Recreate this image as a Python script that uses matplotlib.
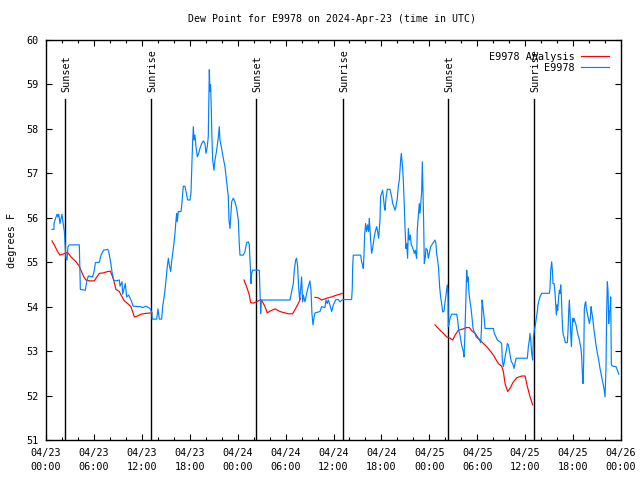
import numpy as np
import matplotlib
matplotlib.use("Agg")
import matplotlib.pyplot as plt

# ---------------- data ----------------
title = "Dew Point for E9978 on 2024-Apr-23 (time in UTC)"
ylabel = "degrees F"
series_names = ["E9978 Analysis", "E9978"]

# hours since 2024-04-23 00:00 UTC
obs_hours = [0.75, 1.0, 1.0, 1.13, 1.38, 1.5, 1.59, 1.75, 2.0, 2.09, 2.3, 2.38, 2.5, 2.63, 2.75, 2.92,
             4.17, 4.3, 4.92, 5.09, 5.3, 5.84, 6.05, 6.18, 6.68, 6.89, 7.22, 7.72, 7.85, 8.05, 8.26,
             8.47, 8.76, 9.18, 9.27, 9.52, 9.6, 9.93, 10.1, 10.35, 10.64, 10.93, 11.81, 12.1, 12.52,
             13.02, 13.27, 13.3, 13.86, 14.02, 14.19, 14.48, 14.61, 14.77, 14.9, 15.02, 15.19, 15.32,
             15.44, 15.61, 15.73, 15.86, 16.02, 16.15, 16.28, 16.36, 16.44, 16.57, 16.9, 16.98, 17.11,
             17.19, 17.4, 17.53, 17.74, 18.03, 18.15, 18.24, 18.36, 18.45, 18.53, 18.65, 18.78, 18.95,
             19.11, 19.28, 19.49, 19.7, 19.9, 20.03, 20.2, 20.32, 20.45, 20.53, 20.61, 20.7, 20.78,
             20.87, 21.03, 21.16, 21.37, 21.58, 21.7, 21.78, 21.99, 22.2, 22.41, 22.62, 22.83, 22.91,
             23.04, 23.16, 23.25, 23.45, 23.66, 23.87, 24.08, 24.2, 24.29, 24.71, 24.91, 25.12, 25.33,
             25.46, 25.54, 25.63, 25.67, 25.75, 25.88, 26.71, 26.79, 26.88, 26.96, 27.04, 30.55, 30.76,
             30.97, 31.09, 31.26, 31.38, 31.51, 31.63, 31.76, 31.88, 32.01, 32.13, 32.22, 32.43, 32.64,
             32.84, 33.05, 33.18, 33.3, 33.43, 33.55, 33.68, 34.3, 34.51, 34.93, 35.06, 35.22, 35.35,
             35.56, 35.77, 35.98, 36.31, 36.6, 36.81, 37.14, 38.27, 38.35, 38.4, 38.48, 39.4, 39.52,
             39.65, 39.73, 39.81, 39.9, 40.02, 40.15, 40.27, 40.4, 40.48, 40.57, 40.65, 40.78, 40.9,
             40.98, 41.11, 41.23, 41.4, 41.53, 41.65, 41.73, 41.82, 41.9, 42.03, 42.15, 42.24, 42.36,
             42.45, 42.57, 42.74, 43.07, 43.28, 43.41, 43.57, 43.7, 43.82, 43.99, 44.11, 44.24, 44.32,
             44.41, 44.49, 44.57, 44.66, 44.74, 44.87, 44.95, 45.07, 45.16, 45.28, 45.37, 45.49, 45.62,
             45.74, 45.87, 46.0, 46.12, 46.24, 46.33, 46.41, 46.49, 46.62, 46.74, 46.83, 46.91, 47.04,
             47.12, 47.2, 47.29, 47.37, 47.5, 47.58, 47.75, 47.87, 48.0, 48.17, 48.41, 48.7, 48.83,
             48.91, 49.04, 49.16, 49.29, 49.41, 49.54, 49.67, 49.84, 49.97, 50.09, 50.17, 50.26, 50.34,
             50.38, 50.47, 50.59, 50.8, 51.43, 51.55, 51.68, 51.84, 51.97, 52.09, 52.26, 52.34, 52.43,
             52.51, 52.6, 52.68, 52.76, 52.85, 52.97, 53.1, 53.22, 53.35, 53.47, 53.6, 53.72, 53.85,
             54.06, 54.27, 54.43, 54.52, 54.6, 54.68, 54.77, 54.89, 54.97, 56.02, 56.14, 56.35, 56.52,
             56.85, 57.06, 57.14, 57.27, 57.39, 57.52, 57.65, 57.77, 57.9, 58.02, 58.15, 58.27, 58.44,
             58.61, 58.73, 58.86, 60.27, 60.4, 60.52, 60.61, 60.69, 60.82, 60.94, 61.03, 61.15, 61.28,
             61.36, 61.49, 61.61, 61.74, 61.86, 62.07, 63.03, 63.11, 63.2, 63.32, 63.41, 63.49, 63.62,
             63.74, 63.82, 63.91, 63.99, 64.07, 64.2, 64.28, 64.37, 64.45, 64.53, 64.62, 64.7, 64.78,
             64.91, 65.03, 65.28, 65.37, 65.45, 65.53, 65.62, 65.7, 65.79, 65.87, 65.95, 66.04, 66.12,
             66.24, 66.37, 66.49, 66.62, 66.74, 66.87, 66.99, 67.08, 67.16, 67.25, 67.33, 67.41, 67.5,
             67.58, 67.66, 67.79, 67.91, 68.04, 68.16, 68.25, 68.33, 68.46, 68.62, 68.75, 68.87, 69.04,
             69.21, 69.37, 69.54, 69.71, 69.87, 70.0, 70.12, 70.21, 70.29, 70.38, 70.46, 70.54, 70.63,
             70.71, 70.79, 70.96, 71.38, 71.55, 71.72]
obs_values = [55.74, 55.74, 55.87, 55.95, 56.08, 56.02, 56.08, 55.87, 56.08, 55.95, 55.69, 55.44, 55.09, 55.05, 55.35, 55.39,
              55.39, 54.39, 54.37, 54.56, 54.69, 54.67, 54.82, 54.99, 55.0, 55.16, 55.27, 55.29, 55.24, 55.05, 54.79,
              54.6, 54.58, 54.6, 54.46, 54.56, 54.28, 54.52, 54.22, 54.26, 54.15, 54.01, 54.0, 53.98, 54.01,
              53.96, 53.86, 53.72, 53.72, 53.95, 53.72, 53.72, 54.0, 54.19, 54.37, 54.6, 54.9, 55.09,
              54.94, 54.79, 55.01, 55.2, 55.42, 55.65, 55.95, 56.1, 55.91, 56.14, 56.14, 56.25, 56.55,
              56.71, 56.71, 56.59, 56.4, 56.4, 56.55, 57.04, 57.71, 58.05, 57.75, 57.86, 57.6, 57.37,
              57.45, 57.56, 57.67, 57.73, 57.67, 57.45, 57.6, 57.83, 59.33, 58.84, 58.99, 58.42, 57.79,
              57.3, 57.07, 57.3, 57.52, 57.82, 58.05, 57.75, 57.56, 57.34, 57.15, 56.81, 56.47, 55.95,
              55.76, 56.1, 56.36, 56.44, 56.36, 56.21, 55.95, 55.42, 55.16, 55.16, 55.24, 55.44, 55.46,
              55.39, 55.05, 54.75, 54.52, 54.75, 54.82, 54.82, 54.34, 53.85, 54.11, 54.15, 54.15, 54.34,
              54.52, 54.82, 55.05, 55.09, 54.9, 54.45, 54.15, 54.37, 54.67, 54.11, 54.26, 54.11, 54.3,
              54.45, 54.58, 54.37, 53.85, 53.59, 53.74, 53.86, 53.89, 54.0, 53.98, 54.15, 54.07, 54.15,
              54.04, 53.89, 54.04, 54.16, 54.16, 54.11, 54.16, 54.16, 54.41, 54.91, 55.16, 55.16, 55.01,
              54.94, 54.86, 55.12, 55.61, 55.87, 55.69, 55.84, 55.69, 55.99, 55.72, 55.5, 55.2, 55.31,
              55.42, 55.57, 55.69, 55.8, 55.69, 55.54, 55.72, 55.95, 56.48, 56.55, 56.62, 56.48, 56.25,
              56.17, 56.44, 56.64, 56.64, 56.48, 56.32, 56.25, 56.17, 56.25, 56.44, 56.7, 56.85, 57.07,
              57.3, 57.45, 57.3, 57.11, 56.85, 56.25, 55.8, 55.31, 55.42, 55.09, 55.76, 55.5, 55.61,
              55.39, 55.35, 55.27, 55.2, 55.27, 55.16, 55.09, 55.72, 56.02, 56.32, 56.1, 56.29, 56.59,
              57.26, 56.66, 55.87, 54.97, 55.12, 55.31, 55.27, 55.09, 55.2, 55.35, 55.42, 55.5, 55.42,
              55.2, 55.05, 54.86, 54.45, 54.22, 54.07, 53.88, 53.9, 54.11, 54.26, 54.39, 54.49, 54.26,
              53.55, 53.62, 53.74, 53.83, 53.83, 53.7, 53.47, 53.36, 53.21, 53.1, 52.99, 52.87, 53.25,
              53.77, 54.41, 54.82, 54.56, 54.67, 54.3, 54.11, 53.96, 53.74, 53.51, 53.44, 53.4, 53.32,
              53.29, 53.25, 53.19, 53.47, 54.15, 54.04, 53.89, 53.7, 53.51, 53.51, 53.4, 53.32, 53.25,
              53.21, 53.17, 52.8, 52.65, 52.76, 52.91, 53.02, 53.17, 53.14, 53.02, 52.87, 52.76, 52.72,
              52.61, 52.72, 52.84, 52.84, 53.1, 53.25, 53.4, 53.25, 52.95, 52.8, 53.3, 53.47, 53.59,
              53.7, 53.85, 54.04, 54.15, 54.22, 54.3, 54.3, 54.41, 54.82, 55.01, 54.82, 54.52, 54.52,
              54.3, 54.07, 53.81, 54.04, 53.92, 54.22, 54.37, 54.3, 54.49, 54.26, 53.77, 53.47, 53.36,
              53.29, 53.19, 53.19, 53.47, 53.89, 54.15, 53.85, 53.4, 53.1, 53.47, 53.74, 53.66, 53.74,
              53.66, 53.59, 53.47, 53.36, 53.29, 53.17, 53.06, 52.87, 52.5, 52.27, 52.76, 53.96, 54.07,
              54.11, 53.96, 53.85, 53.74, 53.62, 53.74, 54.0, 53.89, 53.74, 53.47, 53.29, 53.14, 52.95,
              52.8, 52.61, 52.46, 52.31, 52.16, 51.97, 52.61, 53.92, 54.56, 54.34, 53.62, 53.89, 53.92,
              54.22, 52.69, 52.66, 52.65, 52.57, 52.48]

# analysis series; None marks a gap
ana_hours = [0.75, 1.0, 1.46, 1.75, 2.09, 2.5, 2.71, 3.13, 3.76, 4.17, 4.38, 4.67, 5.01, 5.43, 6.05, 6.26,
             6.68, 7.18, 7.72, 8.05, 8.26, 8.47, 8.76, 9.18, 9.52, 9.81, 10.23, 10.64, 11.06, 11.48,
             11.89, 12.52, 13.27, None,
             24.79, 25.12, 25.46, 25.63, 25.96, 26.37, 26.79, 27.0, 27.42, 27.71, 28.05, 28.67, 29.3,
             30.34, 30.88, 31.17, 31.59, 31.88, None,
             33.68, 34.1, 34.51, 35.14, 35.77, 36.39, 36.81, 37.1, None,
             48.71, 49.34, 49.76, 50.17, 50.59, 50.93, 51.22, 51.64, 52.05, 52.68, 53.01, 53.3, 53.72,
             54.14, 54.77, 55.18, 55.69, 56.02, 56.64, 57.06, 57.27, 57.48, 57.81, 58.1, 58.52, 58.94,
             59.57, 59.99, 60.28, 60.61, 60.94]
ana_values = [55.48, 55.4, 55.24, 55.16, 55.18, 55.21, 55.22, 55.12, 55.01, 54.91, 54.82, 54.69, 54.6, 54.58, 54.58, 54.64,
              54.75, 54.76, 54.79, 54.8, 54.71, 54.6, 54.39, 54.34, 54.22, 54.13, 54.07, 54.0, 53.77, 53.79,
              53.83, 53.85, 53.86, None,
              54.6, 54.45, 54.26, 54.09, 54.08, 54.11, 54.15, 54.15, 54.0, 53.86, 53.9, 53.95, 53.89,
              53.84, 53.84, 53.93, 54.07, 54.19, None,
              54.21, 54.2, 54.15, 54.19, 54.22, 54.26, 54.28, 54.3, None,
              53.59, 53.47, 53.4, 53.32, 53.29, 53.25, 53.36, 53.47, 53.49, 53.53, 53.53, 53.46, 53.4,
              53.29, 53.17, 53.1, 52.99, 52.91, 52.72, 52.66, 52.54, 52.27, 52.09, 52.16, 52.31, 52.4,
              52.44, 52.44, 52.2, 51.97, 51.79]

sun_hours = [2.38, 13.19, 26.3, 37.23, 50.37, 61.14]
sun_labels = ["Sunset", "Sunrise", "Sunset", "Sunrise", "Sunset", "Sunrise"]

xtick_hours = [0, 6, 12, 18, 24, 30, 36, 42, 48, 54, 60, 66, 72]
xtick_labels = ["04/23\n00:00", "04/23\n06:00", "04/23\n12:00", "04/23\n18:00",
                "04/24\n00:00", "04/24\n06:00", "04/24\n12:00", "04/24\n18:00",
                "04/25\n00:00", "04/25\n06:00", "04/25\n12:00", "04/25\n18:00",
                "04/26\n00:00"]
yticks = [51, 52, 53, 54, 55, 56, 57, 58, 59, 60]

# ---------------- plot ----------------
FONT = "DejaVu Sans Mono"
FS = 7.3
plt.rcParams['font.family'] = [FONT, 'DejaVu Sans']

fig = plt.figure(figsize=(6.4, 4.8), dpi=100)
ax = fig.add_axes([46/640, 40/480, 575/640, 400/480])

ax.set_xlim(0, 72)
ax.set_ylim(51, 60)

# sunrise/sunset markers
line_top = 58.67
for h, lab in zip(sun_hours, sun_labels):
    ax.plot([h, h], [51, line_top], color='black', lw=1.0, zorder=2)
    ax.text(h + 0.12, 58.84, lab, rotation=90, ha='center', va='bottom',
            fontsize=FS, family=FONT)

ah = np.array([np.nan if v is None else v for v in ana_hours], dtype=float)
av = np.array([np.nan if v is None else v for v in ana_values], dtype=float)
ax.plot(ah, av, color='#ff0000', lw=0.85, label=series_names[0], zorder=3)
ax.plot(obs_hours, obs_values, color='#0080ff', lw=0.85, label=series_names[1], zorder=4)

ax.set_xticks(xtick_hours)
ax.set_xticklabels(xtick_labels, fontsize=FS, family=FONT)
for t in ax.get_xticklabels():
    t.set_linespacing(1.45)
ax.set_xticks(np.arange(0, 73, 2), minor=True)
ax.set_yticks(yticks)
ax.set_yticklabels([str(v) for v in yticks], fontsize=FS, family=FONT)

ax.tick_params(axis='both', which='major', direction='in', length=4, width=0.8,
               top=True, right=True, colors='black')
ax.tick_params(axis='x', which='major', pad=6)
ax.tick_params(axis='y', which='major', pad=5)
ax.tick_params(axis='x', which='minor', direction='in', length=2, width=0.8, top=True)
for s in ax.spines.values():
    s.set_linewidth(1.0)
    s.set_color('black')

ax.set_ylabel(ylabel, fontsize=FS, family=FONT, labelpad=7)
fig.text(332/640, 1 - 19/480, title, ha='center', va='center', fontsize=7.1, family=FONT)

leg = ax.legend(loc='upper right', bbox_to_anchor=(1.0, 1.0), markerfirst=False, frameon=False,
                handlelength=2.8, handletextpad=0.6, labelspacing=0.12,
                borderaxespad=0.75, prop={'family': FONT, 'size': FS})

fig.savefig("out.png", dpi=100)
